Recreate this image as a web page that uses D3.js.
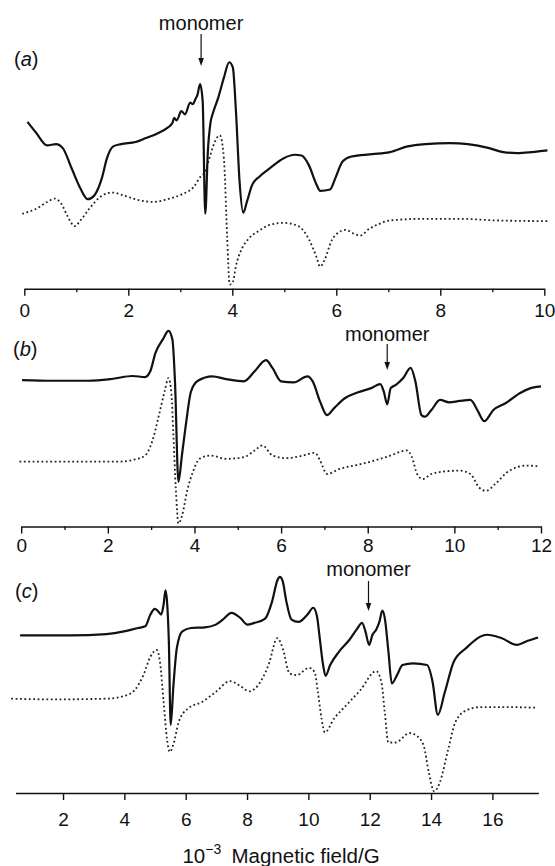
<!DOCTYPE html>
<html><head><meta charset="utf-8">
<script src="https://cdn.jsdelivr.net/npm/d3@7"></script>
<style>
body{margin:0;background:#fff;}
svg text{font-family:"Liberation Sans",Arial,Helvetica,sans-serif;fill:#111;}
</style></head>
<body><svg id="c" width="555" height="866"></svg>
<script>
// ---- data (x: 10^-3 magnetic field / G, y: signal, arbitrary units) ----
const aTicks = [0,2,4,6,8,10];
const aMinor = [1,3,5,7,9];
const bTicks = [0,2,4,6,8,10,12];
const bMinor = [1,3,5,7,9,11];
const cTicks = [2,4,6,8,10,12,14,16];

const aMonomer = 3.40, bMonomer = 8.45, cMonomer = 11.96;

const aSolid = [[0.06,165.3],[0.23,154.3],[0.44,142],[0.61,143.3],[0.74,139.3],[0.91,119.3],[1.08,99.3],[1.22,88.7],[1.35,92.7],[1.49,109.3],[1.59,129.3],[1.71,141],[1.86,143.3],[2.14,145.3],[2.34,149.3],[2.54,153.3],[2.75,159.3],[2.85,164.3],[2.88,169.3],[2.93,166.7],[3.02,176],[3.09,172.7],[3.19,184.3],[3.24,182.7],[3.29,187.7],[3.33,192],[3.38,202.7],[3.43,186],[3.48,74.3],[3.53,136],[3.58,164.3],[3.63,174.3],[3.73,189.3],[3.84,209.3],[3.94,224.3],[4.01,219.3],[4.07,176],[4.14,106],[4.21,75.3],[4.28,86],[4.38,102.7],[4.52,111],[4.72,119.3],[4.99,129.3],[5.20,132.7],[5.33,132],[5.47,122.7],[5.61,104.3],[5.69,97],[5.88,98.3],[5.98,109.3],[6.12,126],[6.29,131],[6.69,133.3],[7.03,135.3],[7.37,141],[7.71,143.3],[8.19,144.3],[8.53,143.3],[8.94,139.3],[9.21,135.3],[9.48,134.3],[9.76,135.3],[10.06,137]];
const aDotted = [[-0.04,74.3],[0.23,79.3],[0.44,86],[0.59,89.3],[0.71,84.3],[0.84,71],[0.97,62],[1.08,67.7],[1.25,79.3],[1.46,91],[1.69,95.3],[1.93,92],[2.27,87],[2.48,86],[2.75,88.7],[3.02,93.3],[3.26,101],[3.39,111],[3.46,114.3],[3.56,129.3],[3.63,141],[3.76,152],[3.80,146],[3.85,119.3],[3.90,52.7],[3.95,4.3],[4.01,6.7],[4.07,22.7],[4.18,39.3],[4.31,49.3],[4.52,57.7],[4.72,63.3],[4.99,65.3],[5.27,62],[5.47,49.3],[5.61,32.7],[5.69,22],[5.78,29.3],[5.91,47.7],[6.05,56],[6.18,58.3],[6.32,55],[6.46,52.7],[6.63,59.3],[6.83,64.3],[7.03,67.7],[7.71,69.3],[8.39,69.3],[9.07,67.7],[10.06,67]];

const bSolid = [[0.02,144],[0.73,143.3],[1.55,143.3],[2.12,145.3],[2.57,148],[2.86,147],[2.98,152.7],[3.10,171],[3.27,184.3],[3.40,192.7],[3.49,184.3],[3.55,142.7],[3.63,43.3],[3.71,69.3],[3.80,99.3],[3.92,132.7],[4.08,143.3],[4.41,147.7],[4.73,145],[5.14,142.7],[5.39,152.7],[5.65,163.7],[5.80,156],[6.00,142.7],[6.29,141.7],[6.61,147.7],[6.73,142.7],[6.90,122.7],[7.06,109.3],[7.22,116],[7.47,126],[7.76,131.7],[8.08,136],[8.29,140],[8.37,132.7],[8.45,120],[8.53,136],[8.65,139.3],[8.82,146],[8.99,156],[9.10,142.7],[9.24,109.3],[9.32,107.7],[9.47,114.3],[9.67,124.3],[9.88,122],[10.12,123.3],[10.37,124.3],[10.53,114.3],[10.69,103.3],[10.90,114.3],[11.18,121],[11.51,131],[11.76,136],[12.0,137.7]];
const bDotted = [[-0.04,63.3],[1.14,63.3],[2.29,63.3],[2.61,65.3],[2.86,69.3],[3.02,82.7],[3.18,109.3],[3.31,132.7],[3.40,146],[3.47,129.3],[3.51,92.7],[3.57,36],[3.63,2],[3.71,9.3],[3.84,36],[3.96,52.7],[4.12,66],[4.37,69.3],[4.73,66],[5.14,67.7],[5.39,74.3],[5.57,79.3],[5.80,69.3],[6.12,66.7],[6.45,68.7],[6.78,72],[6.90,64.3],[7.06,51],[7.35,56],[7.76,60],[8.16,64.3],[8.49,68.7],[8.90,74.3],[9.02,67.7],[9.14,51],[9.27,46],[9.47,51],[9.80,53.7],[10.12,54.3],[10.37,51],[10.57,37.7],[10.73,34.3],[10.94,41],[11.27,54.3],[11.67,59.3],[11.92,58.7]];

const cSolid = [[0.60,155.3],[2.26,155.3],[3.41,156.7],[3.99,159.3],[4.45,162.7],[4.68,164.3],[4.85,176],[4.99,181.7],[5.10,179.3],[5.20,176],[5.28,186],[5.34,200],[5.39,189.3],[5.45,149.3],[5.51,66.7],[5.60,106],[5.71,142.7],[5.89,159.3],[6.17,162.7],[6.63,163.3],[6.98,166],[7.21,171],[7.49,177.7],[7.78,172.7],[8.01,166],[8.24,167.7],[8.59,172],[8.82,189.3],[8.99,210],[9.07,213.3],[9.16,209.3],[9.28,189.3],[9.45,171],[9.68,168.7],[9.97,176],[10.16,182.7],[10.28,174.3],[10.37,152.7],[10.48,126],[10.56,115.3],[10.71,126],[11.0,139.3],[11.34,151],[11.57,161],[11.75,167.7],[11.86,159.3],[11.98,146],[12.09,156],[12.21,161],[12.32,169.3],[12.41,180],[12.49,172.7],[12.61,139.3],[12.72,107.7],[12.89,116],[13.07,126],[13.41,127.7],[13.87,126],[14.05,109.3],[14.22,76.7],[14.45,99.3],[14.74,129.3],[15.14,142.7],[15.83,156],[16.29,152.7],[16.80,146],[17.15,150],[17.49,153.3]];
const cDotted = [[0.31,92.7],[1.69,92],[3.41,92.7],[3.99,95.3],[4.33,101],[4.62,116],[4.85,134.3],[5.05,141],[5.16,129.3],[5.28,89.3],[5.39,52.7],[5.48,40],[5.60,47.7],[5.77,69.3],[6.06,82.7],[6.52,89.3],[6.98,99.3],[7.44,110],[7.78,105.3],[8.07,100],[8.36,106],[8.70,126],[8.99,152.7],[9.16,142.7],[9.39,117.7],[9.62,116],[10.02,123.3],[10.20,119.3],[10.31,99.3],[10.43,72.7],[10.54,59.3],[10.83,72.7],[11.23,86],[11.69,101],[12.21,120],[12.38,109.3],[12.49,79.3],[12.61,49.3],[12.84,49.3],[13.30,58.7],[13.53,56],[13.76,46],[13.93,19.3],[14.10,1],[14.28,9.3],[14.56,42.7],[14.79,69.3],[15.14,81],[15.60,84.3],[16.63,84.3],[17.44,83.7]];

// ---- layout ----
const svg = d3.select("#c");
const panels = [
  {label:"a", domain:[0,10], range:[24.3,544.3], base:288.8, axisY:288.8, labelDy:28.5, ticks:aTicks, minor:aMinor, solid:aSolid, dotted:aDotted,
   mon:aMonomer, monText:30, arrowTop:34, arrowBot:66, lab:[14,66]},
  {label:"b", domain:[0,12], range:[21.2,541], base:525.5, axisY:526.5, labelDy:25.5, ticks:bTicks, minor:bMinor, solid:bSolid, dotted:bDotted,
   mon:bMonomer, monText:341, arrowTop:344, arrowBot:370, lab:[13,356]},
  {label:"c", domain:[0.45,17.5], range:[15.5,538.4], base:792.3, axisY:793, labelDy:32.5, ticks:cTicks, minor:[], solid:cSolid, dotted:cDotted,
   mon:cMonomer, monText:576, arrowTop:581, arrowBot:611, lab:[15,598]}
];

panels.forEach(p => {
  const x = d3.scaleLinear().domain(p.domain).range(p.range);
  const y = d3.scaleLinear().domain([0,230]).range([p.base, p.base-232.3]);
  const g = svg.append("g");

  // axis
  const major = d3.axisBottom(x).tickValues(p.ticks).tickSize(7).tickSizeOuter(0).tickFormat(d3.format("d"));
  const ax = g.append("g").attr("transform",`translate(0,${p.axisY})`).call(major);
  ax.select(".domain").attr("stroke","#111").attr("stroke-width",1.6);
  ax.selectAll(".tick line").attr("stroke","#111").attr("stroke-width",1.4);
  ax.selectAll(".tick text").attr("y",p.labelDy).attr("dy",0).style("font-size","19px").attr("fill","#111");
  if (p.minor.length) {
    const mnr = d3.axisBottom(x).tickValues(p.minor).tickSize(3.5).tickSizeOuter(0).tickFormat("");
    const m = g.append("g").attr("transform",`translate(0,${p.axisY})`).call(mnr);
    m.select(".domain").remove();
    m.selectAll(".tick line").attr("stroke","#111").attr("stroke-width",1.3);
  }

  const line = d3.line().x(d=>x(d[0])).y(d=>y(d[1])).curve(d3.curveMonotoneX);
  g.append("path").attr("d",line(p.dotted)).attr("fill","none").attr("stroke","#222")
    .attr("stroke-width",1.8).attr("stroke-dasharray","1.8,2.6");
  g.append("path").attr("d",line(p.solid)).attr("fill","none").attr("stroke","#111")
    .attr("stroke-width",2.2).attr("stroke-linejoin","round");

  // monomer marker
  const mx = x(p.mon);
  g.append("text").attr("x",mx).attr("y",p.monText).attr("text-anchor","middle").style("font-size","20px").text("monomer");
  g.append("line").attr("x1",mx).attr("x2",mx).attr("y1",p.arrowTop).attr("y2",p.arrowBot-3).attr("stroke","#111").attr("stroke-width",1.2);
  g.append("path").attr("d",`M${mx-2.8},${p.arrowBot-8} L${mx},${p.arrowBot} L${mx+2.8},${p.arrowBot-8} Z`).attr("fill","#111");

  // panel label
  const t = g.append("text").attr("x",p.lab[0]).attr("y",p.lab[1]).style("font-size","20px");
  t.append("tspan").text("(");
  t.append("tspan").style("font-style","italic").text(p.label);
  t.append("tspan").text(")");
});

// axis title
const tt = svg.append("text").attr("x",281).attr("y",863).attr("text-anchor","middle").style("font-size","20.5px");
tt.append("tspan").text("10");
tt.append("tspan").attr("dy",-9).style("font-size","14px").text("\u22123");
tt.append("tspan").attr("dy",9).text("\u2002Magnetic field/G");
</script></body></html>
